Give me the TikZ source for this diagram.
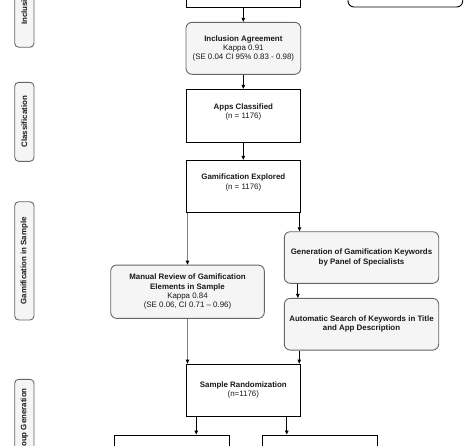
\documentclass[tikz,border=0pt]{standalone}
\usepackage{fontspec}
\setmainfont{Liberation Sans}
\usetikzlibrary{arrows.meta}
\definecolor{gfill}{HTML}{F5F5F5}
\definecolor{gline}{HTML}{666666}
\begin{document}
\begin{tikzpicture}[x=1pt,y=-1pt,
 every node/.style={font=\fontsize{7.9}{9.2}\selectfont, align=center, inner sep=0pt, text=black!90},
 plainbox/.style={draw=black, line width=0.9pt, fill=white, minimum width=114.7pt, minimum height=52pt},
 roundbox/.style={draw=gline, fill=gfill, line width=0.9pt, rounded corners=6pt},
 lanebox/.style={draw=gline, fill=gfill, line width=0.9pt, rounded corners=4pt, rotate=90, minimum height=19.3pt, font=\bfseries\fontsize{7.9}{9.2}\selectfont},
 arr/.style={-{Triangle[length=4pt,width=3.6pt,color=black]}, line width=0.8pt},
 softarr/.style={arr, draw=black!50}
]
\useasboundingbox (0,0) rectangle (474,445);
\clip (0,0) rectangle (474,445);

\node[plainbox] (top) at (243.35,-18.7) {};
\node[plainbox, rounded corners=6pt] (topr) at (405.35,-19) {};
\node[roundbox, minimum width=114.7pt, minimum height=52pt] (ia) at (243.35,48.3)
  {\textbf{Inclusion Agreement}\\Kappa 0.91\\(SE 0.04 CI 95\% 0.83 - 0.98)};
\node[plainbox, minimum height=53pt] (ac) at (243.35,115.8)
  {\textbf{Apps Classified}\\(n = 1176)\\\mbox{}};
\node[plainbox] (ge) at (243.35,186.3)
  {\textbf{Gamification Explored}\\(n = 1176)\\\mbox{}};
\node[roundbox, minimum width=154.4pt, minimum height=51.6pt] (gen) at (361.5,257.5)
  {\textbf{Generation of Gamification Keywords}\\\textbf{by Panel of Specialists}};
\node[roundbox, minimum width=154.4pt, minimum height=51.7pt] (auto) at (361.5,324.2)
  {\textbf{Automatic Search of Keywords in Title}\\\textbf{and App Description}};
\node[roundbox, minimum width=153.6pt, minimum height=53.3pt] (mr) at (187.5,291.7)
  {\textbf{Manual Review of Gamification}\\\textbf{Elements in Sample}\\Kappa 0.84\\(SE 0.06, CI 0.71 – 0.96)};
\node[plainbox, minimum height=52.3pt] (sr) at (243.35,390.2)
  {\textbf{Sample Randomization}\\(n=1176)};
\node[plainbox] (b1) at (172,461) {};
\node[plainbox] (b2) at (319.85,461) {};

\node[lanebox, minimum width=79.3pt] (l1) at (24.35,7.6) {Inclusion};
\node[lanebox, minimum width=79pt] (l2) at (24.35,121.8) {Classification};
\node[lanebox, minimum width=118.3pt] (l3) at (24.35,260.85) {Gamification in Sample};
\node[lanebox, minimum width=85.6pt] (l4) at (24.35,422.1) {Group Generation};

\draw[arr] (top) -- (ia);
\draw[arr] (ia) -- (ac);
\draw[arr] (ac) -- (ge);
\draw[softarr] (mr.north |- ge.south) -- (mr.north);
\coordinate (gr) at ([xshift=-1.7pt]ge.south east);
\draw[arr] (gr) -- (gr |- gen.north);
\coordinate (ga) at ([xshift=14pt]gen.south west);
\draw[arr] (ga) -- (ga |- auto.north);
\coordinate (as) at ([xshift=15.4pt]auto.south west);
\draw[arr] (as) -- (as |- sr.north);
\draw[softarr] (mr.south) -- (mr.south |- sr.north);
\coordinate (s1) at ([xshift=10.7pt]sr.south west);
\draw[arr] (s1) -- (s1 |- b1.north);
\coordinate (s2) at ([xshift=-14.4pt]sr.south east);
\draw[arr] (s2) -- (s2 |- b2.north);
\end{tikzpicture}
\end{document}
